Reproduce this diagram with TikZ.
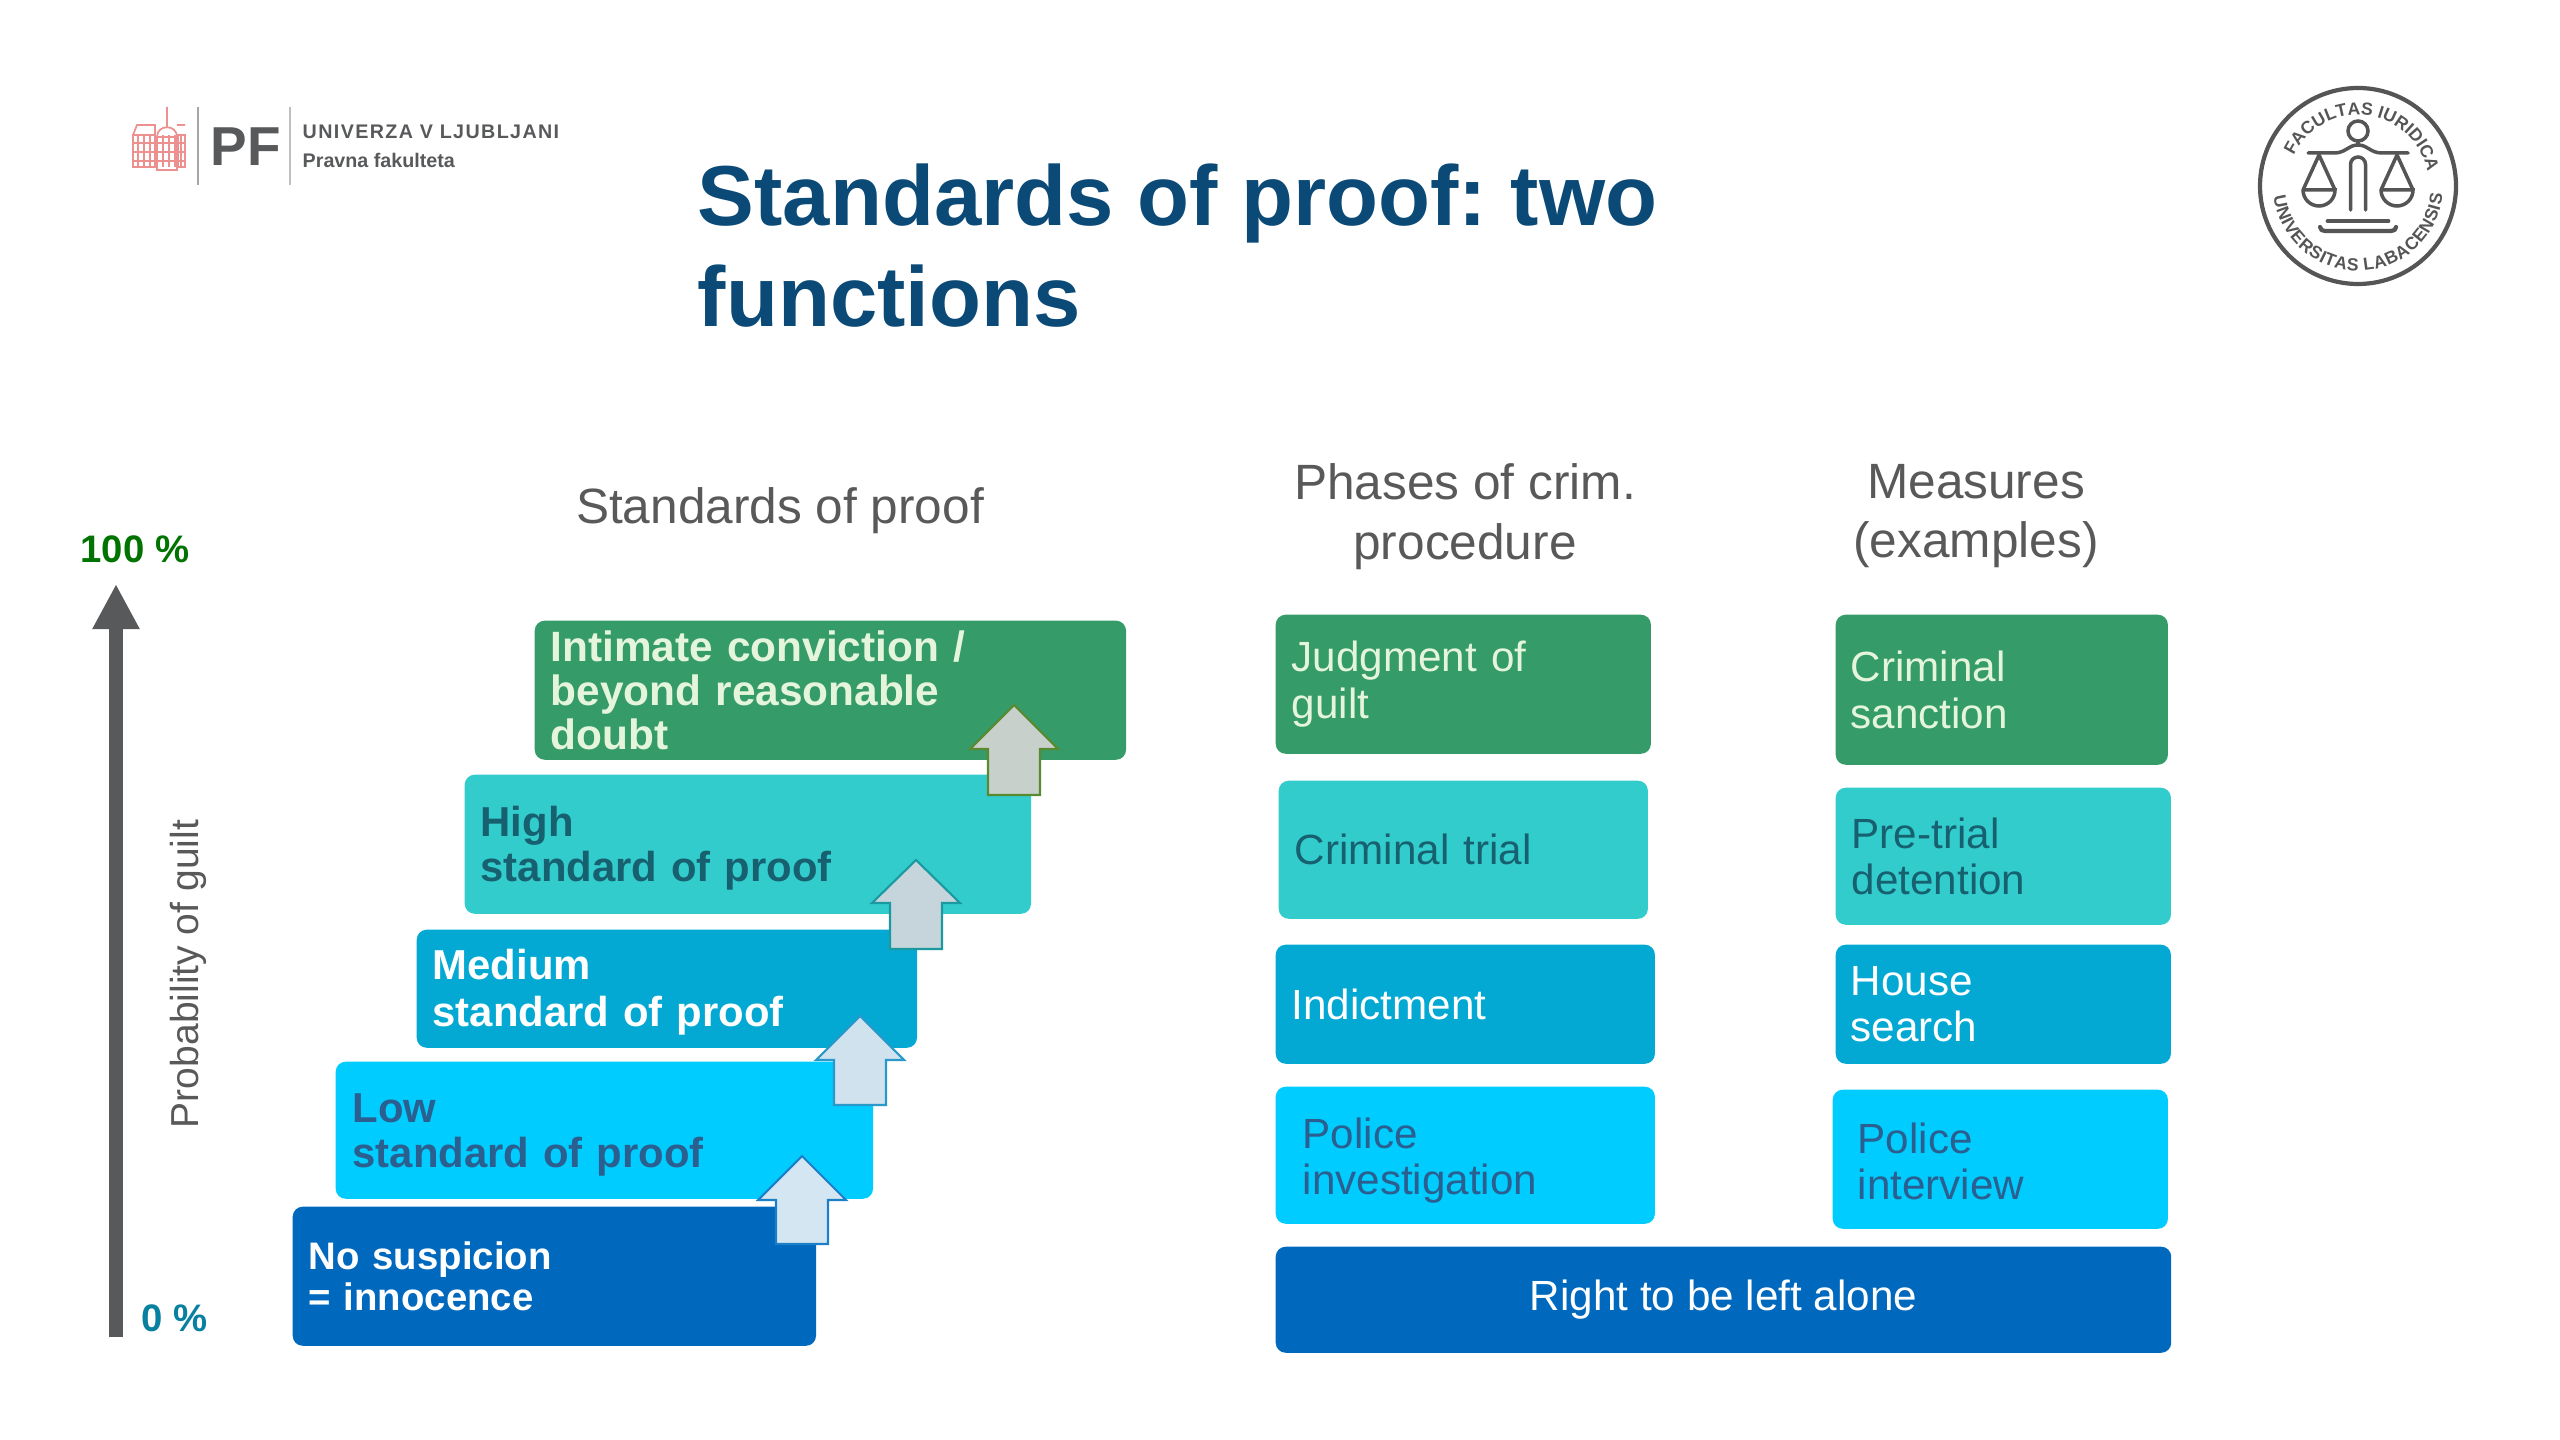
\documentclass[tikz,border=0pt]{standalone}
\usepackage{fontspec}
\setmainfont{Liberation Sans}
\usepackage{xcolor}
\usetikzlibrary{arrows.meta, positioning, calc, decorations.text}

\definecolor{stepgreen}{HTML}{359B68}
\definecolor{stepteal}{HTML}{33CCCC}
\definecolor{stepblue}{HTML}{03A9D3}
\definecolor{stepcyan}{HTML}{00CCFF}
\definecolor{stepdark}{HTML}{0069BE}
\definecolor{titleblue}{HTML}{0B4A76}
\definecolor{headgray}{HTML}{595959}
\definecolor{axisgray}{HTML}{58595B}
\definecolor{logored}{HTML}{EC9090}
\definecolor{sealgray}{HTML}{555555}
\definecolor{txtlight}{HTML}{E4F5DC}
\definecolor{txtteal}{HTML}{17606F}
\definecolor{txtcyan}{HTML}{2A5F8F}

\frenchspacing
\tikzset{
  stepbox/.style 2 args={draw=none, rounded corners=0.1cm, anchor=north west, align=left,
    minimum width=#1cm, minimum height=#2cm, inner ysep=0pt},
  inset/.style 2 args={text width=#1cm-2*#2cm, inner xsep=#2cm},
  stepfont/.style={font=\fontsize{11.9}{12.9}\selectfont\bfseries},
  planfont/.style={font=\fontsize{12}{13.2}\selectfont},
  headfont/.style={font=\fontsize{14.1}{17}\selectfont, text=headgray, align=center},
  sealtext/.style={decorate, decoration={text along path, text align=fit to path,
    text={|\fontsize{5}{6}\selectfont\bfseries\color{sealgray}|#1}}}
}

\begin{document}
\begin{tikzpicture}[x=0.01cm, y=-0.01cm]
  \useasboundingbox (0,0) rectangle (2560,1440);
  % logo
  \draw[logored, line width=0.5pt] (133,135) rectangle (155,167) (157,137) rectangle (177,170) (178,135) rectangle (185,167);
  \draw[logored, line width=0.5pt] (167,107) -- (167,127) (133,135) -- (137,125) -- (155,125) -- (155,135) (177,125) -- (185,125);
  \draw[logored, line width=0.5pt] (157,137) .. controls (157,124) and (177,124) .. (177,137);
  \foreach \i in {143,152,161}
    \draw[logored, line width=0.6pt] (133,\i) -- (185,\i);
  \foreach \i in {138,144,150,163,169,175,181}
    \draw[logored, line width=0.6pt] (\i,135) -- (\i,167);
  \draw[gray!70, line width=0.6pt] (198,107) -- (198,185);
  \draw[gray!50, line width=0.6pt] (290,107) -- (290,185);
  \node[anchor=west, inner sep=0pt, text=axisgray, font=\fontsize{15.6}{17}\selectfont\bfseries] (logopf) at (210,147) {PF};
  \node[anchor=west, inner sep=0pt, text=axisgray, font=\fontsize{5.6}{6}\selectfont\bfseries\addfontfeature{LetterSpace=7}] (logouni) at (302,132) {UNIVERZA V LJUBLJANI};
  \node[anchor=west, inner sep=0pt, text=axisgray, font=\fontsize{5.6}{6}\selectfont\bfseries] (logofac) at (302,160) {Pravna fakulteta};
  % title
  \node[anchor=north west, inner sep=0pt, align=left, text=titleblue, font=\fontsize{24.2}{28.8}\selectfont\bfseries] (title) at (697,163) {Standards of proof: two\\functions};
  % seal
  \begin{scope}[shift={(2358,186)}, y=0.01cm, sealgray, line width=1pt, line cap=round]
    \draw[line width=1.2pt] (0,0) circle (98);
    \path[sealtext={FACULTAS IURIDICA{\ }{\ }{\ }}] (155:71) arc (155:10:71);
    \path[sealtext={UNIVERSITAS LABACENSIS{\ }}] (187:85) arc (187:358:85);
    \draw (0,55) circle (10);
    \draw (0,45) -- (0,41);
    \draw (-50,33) -- (-24,33) .. controls (-12,33) and (-10,41) .. (0,41) .. controls (10,41) and (12,33) .. (24,33) -- (50,33);
    \foreach \i in {-39,39} {
      \draw (\i-16,-4) -- (\i,31) -- (\i+16,-4);
      \draw (\i-16,-4) -- (\i+16,-4) arc (0:-180:16);
    }
    \draw (-7.5,-24) -- (-7.5,21.5) arc (180:0:7.5) -- (7.5,-24);
    \draw[line width=1.4pt] (-30,-35) -- (30,-35);
    \draw[line width=1.2pt] (-38,-41) .. controls (-37,-44) .. (-33,-45) -- (33,-45) .. controls (37,-44) .. (38,-41);
  \end{scope}
  % column headings
  \node[headfont] (headstep) at (780,511) {Standards of proof};
  \node[headfont] (headphase) at (1465,517) {Phases of crim.\\procedure};
  \node[headfont] (headmeasure) at (1976,516) {Measures\\(examples)};
  % probability axis
  \coordinate (axisbottom) at (116,1337);
  \coordinate (axistop) at (116,584);
  \draw[-{Triangle[length=0.45cm, width=0.44cm]}, axisgray, line width=0.14cm] (axisbottom) -- (axistop);
  \node[text=green!45!black, font=\fontsize{10.9}{12}\selectfont\bfseries, inner sep=0pt] (top) at (135,549) {100 \%};
  \node[text=titleblue!70!cyan, font=\fontsize{10.9}{12}\selectfont\bfseries, inner sep=0pt] (bottom) at (175,1318) {0 \%};
  \node[rotate=90, text=headgray, font=\fontsize{11.1}{12}\selectfont, inner sep=0pt] (prob) at (188,974) {Probability of guilt};
  % standards of proof
  \node[stepbox={5.91}{1.39}, inset={5.91}{0.16}, font=\fontsize{12.05}{12.5}\selectfont\bfseries, fill=stepgreen, text=txtlight] (intimate) at (534,620) {Intimate conviction /\\beyond reasonable\\doubt};
  \node[stepbox={5.66}{1.39}, inset={5.66}{0.16}, stepfont, fill=stepteal, text=txtteal] (high) at (464,774) {\rule{0pt}{10.7pt}High\\standard of proof};
  \node[stepbox={5.00}{1.18}, inset={5.00}{0.16}, stepfont, fill=stepblue, text=white] (medium) at (416,929) {\rule{0pt}{10.8pt}Medium\\[0.5pt]standard of proof};
  \node[stepbox={5.37}{1.37}, inset={5.37}{0.17}, stepfont, fill=stepcyan, text=txtcyan] (low) at (335,1061) {\rule{0pt}{10.7pt}Low\\standard of proof};
  \node[stepbox={5.23}{1.39}, inset={5.23}{0.16}, font=\fontsize{10.9}{11.6}\selectfont\bfseries, fill=stepdark, text=white] (none) at (292,1206) {No suspicion\\= innocence};
  % block arrows
  \foreach \cx/\tip/\base/\foot/\fillc/\linec in {1014/705/749/795/C8D0CC/5A8A30, 916/860/903/949/C6D5DC/1A9AA0, 860/1016/1060/1105/CFE2EE/2899C8, 802/1156/1200/1244/D4E6F2/1D7FC8} {
    \definecolor{arrowfill}{HTML}{\fillc}
    \definecolor{arrowline}{HTML}{\linec}
    \filldraw[fill=arrowfill, draw=arrowline, line width=0.6pt] (\cx,\tip) -- (\cx+44,\base) -- (\cx+26,\base) -- (\cx+26,\foot) -- (\cx-26,\foot) -- (\cx-26,\base) -- (\cx-44,\base) -- cycle;
  }
  % phases
  \node[stepbox={3.75}{1.39}, inset={3.75}{0.16}, planfont, fill=stepgreen, text=txtlight] (judgment) at (1275,614) {Judgment of\\guilt};
  \node[stepbox={3.69}{1.38}, inset={3.69}{0.16}, planfont, fill=stepteal, text=txtteal] (trial) at (1278,780) {Criminal trial};
  \node[stepbox={3.79}{1.19}, inset={3.79}{0.16}, planfont, fill=stepblue, text=white] (indict) at (1275,944) {Indictment};
  \node[stepbox={3.79}{1.37}, inset={3.79}{0.27}, planfont, fill=stepcyan, text=txtcyan] (police) at (1275,1086) {\rule{0pt}{11.6pt}Police\\investigation};
  \node[stepbox={8.95}{1.06}, planfont, fill=stepdark, text=white, align=center] (alone) at (1275,1246) {Right to be left alone};
  % measures
  \node[stepbox={3.32}{1.50}, inset={3.32}{0.15}, planfont, fill=stepgreen, text=txtlight] (sanction) at (1835,614) {Criminal\\sanction};
  \node[stepbox={3.35}{1.37}, inset={3.35}{0.16}, planfont, fill=stepteal, text=txtteal] (pretrial) at (1835,787) {Pre-trial\\detention};
  \node[stepbox={3.35}{1.19}, inset={3.35}{0.15}, planfont, fill=stepblue, text=white] (house) at (1835,944) {House\\search};
  \node[stepbox={3.35}{1.39}, inset={3.35}{0.25}, planfont, fill=stepcyan, text=txtcyan] (interview) at (1832,1089) {\rule{0pt}{9.8pt}Police\\interview};
\end{tikzpicture}
\end{document}
